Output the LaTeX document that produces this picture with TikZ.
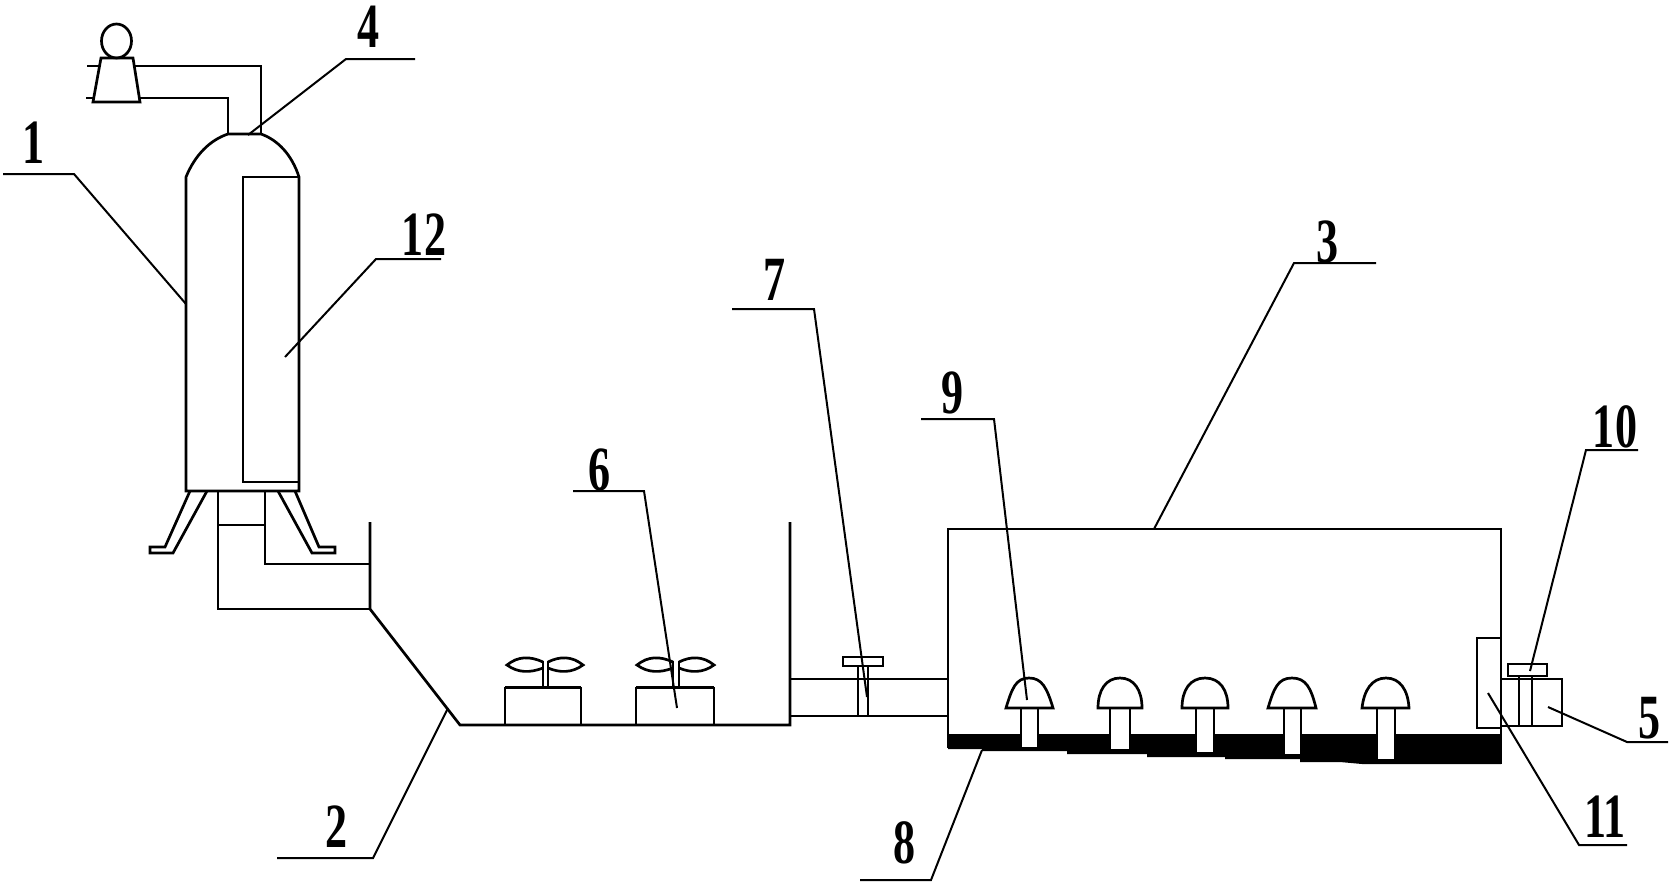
\documentclass[tikz,border=0pt]{standalone}
\usepackage{fontspec}
\setmainfont{Liberation Serif}
\tikzset{
  wall/.style={line width=2.7pt,line join=miter},
  leader/.style={line width=2pt},
  partno/.style={font=\fontsize{63}{63}\selectfont\bfseries,inner sep=0pt,xscale=.7,transform shape}
}
\begin{document}
\begin{tikzpicture}[x=1pt,y=-1pt]
\useasboundingbox (0,0) rectangle (1672,887);
%fan on top
\draw[wall] (116.5,41) ellipse (15 and 17);
\draw[wall] (101,58) -- (133,58) -- (140,102) -- (93,102) -- cycle;
\draw[wall] (87,66) -- (101,66);
\draw[wall] (86,98) -- (93,98);
\draw[wall] (133,66) -- (261,66) -- (261,135);
\draw[wall] (140,98) -- (228,98) -- (228,134);
%tower
\draw[wall] (186,491) -- (186,177) .. controls (195,155) and (210,140) .. (228,134) -- (261,134) .. controls (278,140) and (292,155) .. (299,177) -- (299,491) -- cycle;
\draw[wall] (299,177) -- (243,177) -- (243,482) -- (299,482);
%legs
\draw[wall] (190,491) -- (165,547) -- (150,547) -- (150,553) -- (173,553) -- (207,491);
\draw[wall] (295,491) -- (319,547) -- (335,547) -- (335,553) -- (312,553) -- (278,491);
%duct and bed
\draw[wall] (218,491) -- (218,609) -- (370,609);
\draw[wall] (265,491) -- (265,564) -- (370,564);
\draw[wall] (218,525) -- (265,525);
\draw[wall] (370,522) -- (370,609) -- (460,725) -- (790,725) -- (790,522);
%seedlings
\draw[wall] (505,725) -- (505,688) -- (581,688) -- (581,725);
\draw[wall] (505,687) -- (581,687);
\draw[wall] (543,688) -- (543,661);
\draw[wall] (548,688) -- (548,661);
\draw[wall] (543,662) .. controls (530,656) and (518,656) .. (507,665) .. controls (518,673) and (530,673) .. (543,668);
\draw[wall] (548,662) .. controls (560,656) and (572,656) .. (583,665) .. controls (572,673) and (560,673) .. (548,668);
\draw[wall] (636,725) -- (636,688) -- (714,688) -- (714,725);
\draw[wall] (636,687) -- (714,687);
\draw[wall] (673,688) -- (673,661);
\draw[wall] (679,688) -- (679,661);
\draw[wall] (673,662) .. controls (660,656) and (648,656) .. (637,665) .. controls (648,673) and (660,673) .. (673,668);
\draw[wall] (679,662) .. controls (691,656) and (703,656) .. (714,665) .. controls (703,673) and (691,673) .. (679,668);
%connecting pipe and valve
\draw[wall] (790,679) -- (948,679);
\draw[wall] (790,716) -- (948,716);
\draw[wall,fill=white] (843,657) rectangle (883,666);
\draw[wall] (858,666) -- (858,716);
\draw[wall] (868,666) -- (868,716);
%chamber
\fill (948,734) -- (1501,734) -- (1501,764) -- (1362,764) -- (1340,762) -- (1300,762) -- (1300,759) -- (1225,759) -- (1225,757) -- (1147,757) -- (1147,754) -- (1067,754) -- (1067,751) -- (982,751) -- (982,749) -- (948,749) -- cycle;
\draw[wall] (948,748) -- (948,529) -- (1501,529) -- (1501,764);
%mushrooms
\draw[wall,fill=white] (1021,708) -- (1021,748) -- (1038,748) -- (1038,708);
\draw[wall] (1006,708) .. controls (1012,688) and (1016,678) .. (1029,678) .. controls (1042,678) and (1047,688) .. (1053,708) -- cycle;
\draw[wall,fill=white] (1110,708) -- (1110,750) -- (1130,750) -- (1130,708);
\draw[wall] (1098,708) .. controls (1098,690) and (1106,678) .. (1120,678) .. controls (1134,678) and (1142,690) .. (1142,708) -- cycle;
\draw[wall,fill=white] (1196,708) -- (1196,753) -- (1214,753) -- (1214,708);
\draw[wall] (1182,708) .. controls (1182,690) and (1190,678) .. (1205,678) .. controls (1220,678) and (1228,690) .. (1228,708) -- cycle;
\draw[wall,fill=white] (1284,708) -- (1284,755) -- (1301,755) -- (1301,708);
\draw[wall] (1268,708) .. controls (1274,688) and (1278,678) .. (1292,678) .. controls (1306,678) and (1311,688) .. (1316,708) -- cycle;
\draw[wall,fill=white] (1377,708) -- (1377,760) -- (1395,760) -- (1395,708);
\draw[wall] (1362,708) .. controls (1364,690) and (1372,678) .. (1386,678) .. controls (1400,678) and (1408,690) .. (1409,708) -- cycle;
%door and outlet valve
\draw[wall] (1501,638) -- (1477,638) -- (1477,728) -- (1501,728);
\draw[wall] (1501,679) -- (1562,679) -- (1562,726) -- (1501,726);
\draw[wall] (1519,676) -- (1519,726);
\draw[wall] (1532,676) -- (1532,726);
\draw[wall,fill=white] (1508,664) rectangle (1547,676);
%part numbers
\node[partno] (no1) at (34,143) {1};
\node[partno] (no2) at (337,827) {2};
\node[partno] (no3) at (1328,242) {3};
\node[partno] (no4) at (369,27) {4};
\node[partno] (no5) at (1650,718) {5};
\node[partno] (no6) at (600,470) {6};
\node[partno] (no7) at (775,280) {7};
\node[partno] (no8) at (905,843) {8};
\node[partno] (no9) at (953,393) {9};
\node[partno] (no10) at (1615,427) {10};
\node[partno] (no11) at (1605,817) {11};
\node[partno] (no12) at (424,235) {12};
%leaders
\draw[leader] (3,174) -- (74,174) -- (186,304);
\draw[leader] (277,858) -- (373,858) -- (448,708);
\draw[leader] (1376,263) -- (1294,263) -- (1154,529);
\draw[leader] (415,59) -- (346,59) -- (248,135);
\draw[leader] (1668,742) -- (1627,742) -- (1548,707);
\draw[leader] (573,491) -- (644,491) -- (677,708);
\draw[leader] (732,309) -- (814,309) -- (867,697);
\draw[leader] (860,880) -- (931,880) -- (982,750);
\draw[leader] (921,419) -- (994,419) -- (1027,700);
\draw[leader] (1638,450) -- (1586,450) -- (1530,671);
\draw[leader] (1627,845) -- (1579,845) -- (1488,693);
\draw[leader] (441,259) -- (376,259) -- (285,357);
\end{tikzpicture}
\end{document}
